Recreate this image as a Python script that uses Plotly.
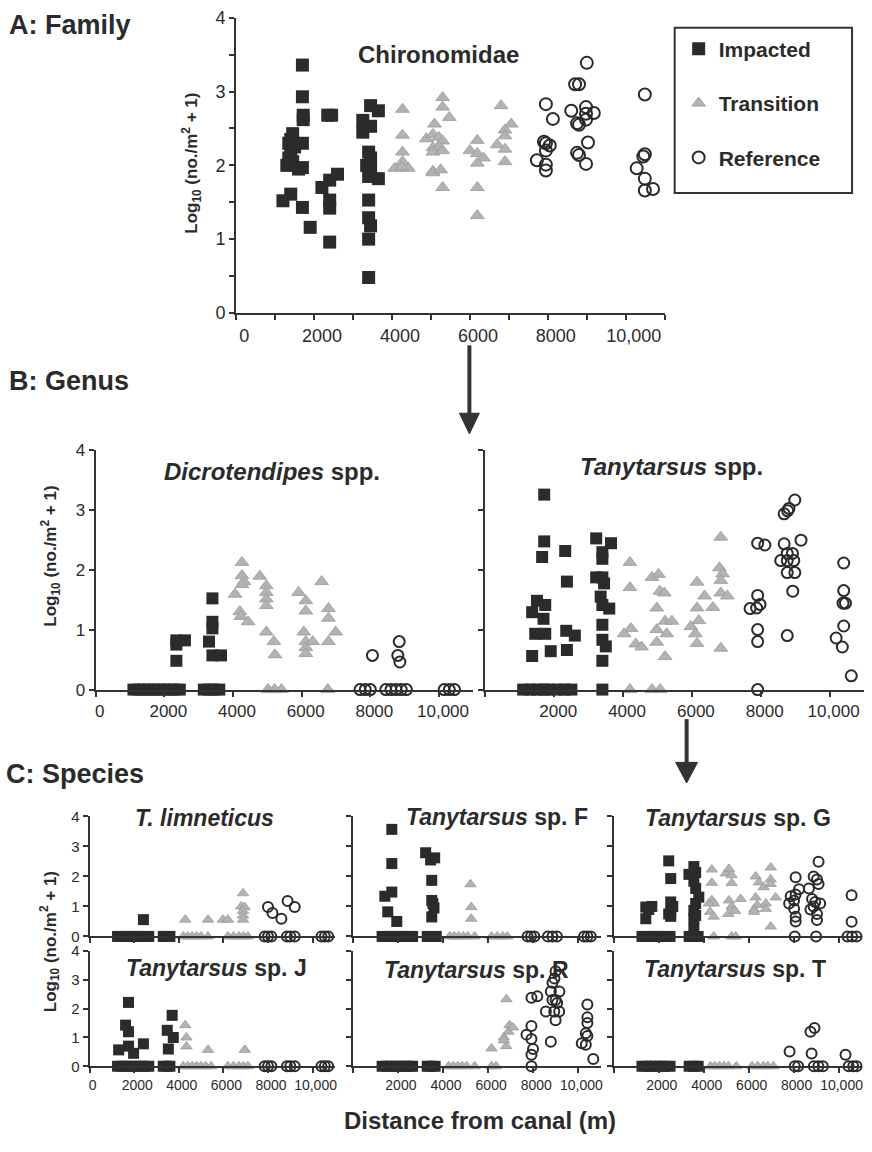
import plotly.graph_objects as go

# ---------------- DATA ----------------
# Panel A: Chironomidae (family)
A_imp_x = [1200, 1400, 1300, 1350, 1400, 1350, 1450, 1400, 1500, 1450, 1600, 1700, 1700, 1720, 1720, 1700, 1700, 1700, 1900,
           2350, 2450, 2200, 2400, 2600, 2400, 2400, 2400,
           3450, 3650, 3250, 3250, 3450, 3400, 3450, 3350, 3450, 3400, 3650, 3400, 3400, 3450, 3400, 3400]
A_imp_y = [1.52, 1.61, 2.0, 2.1, 2.2, 2.3, 2.43, 2.35, 2.25, 2.05, 1.95, 1.97, 2.3, 2.62, 2.68, 2.93, 3.36, 1.43, 1.16,
           2.68, 2.68, 1.7, 1.8, 1.88, 1.53, 1.42, 0.96,
           2.81, 2.74, 2.61, 2.45, 2.53, 2.18, 2.1, 2.0, 1.95, 1.85, 1.82, 1.53, 1.29, 1.18, 1.0, 0.48]
A_tra_x = [4270, 4270, 4270, 4270, 4070, 4420, 4250,
           4880, 5090, 5050, 5050, 5300, 5300, 5470, 5050, 5200, 5300, 5200, 5050, 5300, 5050, 5250, 5300,
           6190, 6000, 6190, 6350, 6190, 6190, 6190,
           6800, 7060, 6900, 6900, 6700, 6900, 6900]
A_tra_y = [2.76, 2.41, 2.18, 2.05, 1.96, 1.96, 1.98,
           2.36, 2.56, 2.24, 1.92, 2.92, 2.79, 2.65, 2.42, 2.38, 2.33, 2.25, 2.18, 2.2, 1.9, 1.94, 1.7,
           2.34, 2.2, 2.16, 2.1, 2.03, 1.7, 1.32,
           2.81, 2.56, 2.48, 2.4, 2.28, 2.22, 2.05]
A_ref_x = [7950, 8130, 7900, 7950, 8050, 7950, 7720, 7950, 7950,
           9000, 8700, 8800, 8600, 8980, 9180, 8980, 8980, 8750, 8800, 9030, 8750, 8800, 8980,
           10490, 10490, 10450, 10280, 10490, 10490, 10700]
A_ref_y = [2.83, 2.63, 2.32, 2.3, 2.27, 2.2, 2.07, 2.01, 1.93,
           3.39, 3.1, 3.1, 2.74, 2.79, 2.71, 2.7, 2.62, 2.57, 2.55, 2.31, 2.17, 2.14, 2.02,
           2.96, 2.15, 2.12, 1.96, 1.82, 1.66, 1.68]

# Panel B left: Dicrotendipes spp.
BL_imp_x = [1100, 1250, 1400, 1550, 1700, 1850, 2000, 2150, 2300, 2450, 3150, 3300, 3450, 3600,
            2350, 2600, 2350, 2350, 3400, 3400, 3400, 3300, 3400, 3650]
BL_imp_y = [0, 0, 0, 0, 0, 0, 0, 0, 0, 0, 0, 0, 0, 0,
            0.82, 0.82, 0.75, 0.48, 1.52, 1.13, 1.02, 0.8, 0.57, 0.57]
BL_tra_x = [5020, 5210, 5410, 6760,
            4260, 4260, 4320, 4260, 4060, 4200, 4230, 4440, 4780, 4970, 4970, 4970, 4970, 4970, 5190, 5220,
            5910, 6120, 6120, 6060, 6120, 6120, 6120, 6320, 6580, 6780, 6780, 6990, 6780]
BL_tra_y = [0, 0, 0, 0,
            2.12, 1.9, 1.8, 1.75, 1.59, 1.3, 1.22, 1.13, 1.89, 1.73, 1.62, 1.51, 1.4, 0.96, 0.8, 0.58,
            1.62, 1.48, 1.31, 0.96, 0.8, 0.7, 0.6, 0.8, 1.8, 1.35, 1.19, 0.96, 0.8]
BL_ref_x = [7700, 7850, 8000, 8450, 8600, 8750, 8900, 9050, 10150, 10300, 10450,
            8060, 8840, 8800, 8860]
BL_ref_y = [0, 0, 0, 0, 0, 0, 0, 0, 0, 0, 0,
            0.57, 0.8, 0.57, 0.46]

# Panel B right: Tanytarsus spp.
BR_imp_x = [1100, 1300, 1500, 1700, 1850, 2100, 2300, 2500, 3400,
            1710, 1710, 1650, 1500, 1740, 1360, 1690, 1450, 1740, 1360, 1900, 2320, 2370, 2350, 2600, 2370,
            3220, 3650, 3400, 3400, 3220, 3400, 3450, 3350, 3400, 3600, 3400, 3400, 3500, 3400]
BR_imp_y = [0, 0, 0, 0, 0, 0, 0, 0, 0,
            3.25, 2.47, 2.21, 1.48, 1.41, 1.29, 1.18, 0.93, 0.93, 0.56, 0.64, 2.31, 1.8, 0.98, 0.9, 0.66,
            2.52, 2.44, 2.29, 2.18, 1.87, 1.87, 1.77, 1.55, 1.41, 1.35, 1.08, 0.83, 0.72, 0.48]
BR_tra_x = [4200, 4840, 5080,
            4200, 4200, 4230, 4030, 4370, 4540, 4840, 5030, 5070, 5200, 4980, 4980, 5270, 5220, 5420, 4980, 5220,
            6150, 6370, 6150, 6610, 6200, 5970, 6100, 6150, 6840, 6800, 6890, 6840, 6840, 7030, 6840]
BR_tra_y = [0, 0, 0,
            2.12, 1.7, 1.02, 0.93, 0.76, 0.71, 1.87, 1.92, 1.64, 1.61, 1.36, 1.0, 0.93, 1.14, 1.14, 0.79, 0.55,
            1.79, 1.56, 1.36, 1.37, 1.15, 1.05, 0.93, 0.77, 2.54, 2.03, 1.93, 1.82, 1.61, 1.56, 0.69]
BR_ref_x = [7910, 8120, 8680, 8780, 8820, 8990, 8680, 9170, 8770, 8920, 8580, 8770, 8960, 8770, 8990, 8930, 8770,
            7910, 7690, 7880, 7980, 7910, 7910, 7910,
            10410, 10410, 10390, 10460, 10410, 10190, 10370, 10630]
BR_ref_y = [2.44, 2.41, 2.93, 2.98, 3.02, 3.16, 2.43, 2.49, 2.27, 2.27, 2.15, 2.15, 2.15, 1.95, 1.95, 1.64, 0.9,
            1.57, 1.35, 1.36, 1.42, 1.0, 0.8, 0.0,
            2.11, 1.65, 1.44, 1.44, 1.06, 0.86, 0.71, 0.23]

# Panel C: species
# T. limneticus
C1_imp_x = [1250, 1450, 1650, 1850, 2050, 2250, 2450, 2650, 3300, 3450, 3600, 2410]
C1_imp_y = [0, 0, 0, 0, 0, 0, 0, 0, 0, 0, 0, 0.56]
C1_tra_x = [4200, 4400, 4600, 4800, 5000, 5300, 6200, 6450, 6700, 6900, 7100,
            4290, 5310, 5980, 6200, 6880, 6800, 6950, 6880, 6880, 6880]
C1_tra_y = [0, 0, 0, 0, 0, 0, 0, 0, 0, 0, 0,
            0.56, 0.56, 0.56, 0.56, 1.44, 1.0, 0.98, 0.85, 0.7, 0.56]
C1_ref_x = [7850, 8000, 8150, 8850, 9000, 9200, 10400, 10550, 10700,
            8000, 8200, 8600, 8880, 9200]
C1_ref_y = [0, 0, 0, 0, 0, 0, 0, 0, 0,
            0.98, 0.78, 0.59, 1.18, 0.98]

# Tanytarsus sp. F
C2_imp_x = [1300, 1500, 1700, 1900, 2100, 2300, 2500, 2650, 3300, 3500, 3700,
            1730, 1730, 3230, 3630, 3450, 3500, 1730, 1420, 3500, 3550, 3600, 1550, 1950, 3500]
C2_imp_y = [0, 0, 0, 0, 0, 0, 0, 0, 0, 0, 0,
            3.57, 2.43, 2.79, 2.62, 2.55, 1.87, 1.48, 1.34, 1.2, 1.1, 0.95, 0.82, 0.5, 0.65]
C2_tra_x = [4300, 4500, 4700, 4900, 5100, 5400, 6150, 6400, 6650, 6850,
            5220, 5250, 5250]
C2_tra_y = [0, 0, 0, 0, 0, 0, 0, 0, 0, 0,
            1.74, 0.98, 0.59]
C2_ref_x = [7750, 7900, 8050, 8650, 8850, 9050, 10250, 10400, 10550]
C2_ref_y = [0, 0, 0, 0, 0, 0, 0, 0, 0]

# Tanytarsus sp. G
C3_imp_x = [1250, 1450, 1650, 1850, 2050, 2250, 2500, 3350, 3550, 3750,
            1420, 1690, 1420, 1550, 2440, 2530, 2530, 2620, 2530, 2440, 2530,
            3560, 3640, 3340, 3560, 3640, 3780, 3640, 3560, 3640, 3560, 3560]
C3_imp_y = [0, 0, 0, 0, 0, 0, 0, 0, 0, 0,
            0.98, 1.0, 0.59, 0.9, 2.52, 1.93, 1.15, 1.0, 0.82, 0.75, 0.67,
            2.33, 2.13, 2.07, 1.84, 1.6, 1.31, 1.1, 0.87, 0.7, 0.6, 0.26]
C3_tra_x = [4440, 5240, 5420,
            4360, 4360, 4980, 5120, 5240, 5240, 4360, 4450, 4230, 5120, 5240, 5360, 5640,
            6310, 6450, 6670, 6980, 6980, 6980, 6310, 6380, 6760, 7200, 6240,
            4280, 4440, 5090, 5390, 6240, 6760, 6980]
C3_tra_y = [0, 0, 0,
            2.23, 1.79, 2.1, 2.25, 2.04, 1.78, 1.21, 1.1, 1.1, 1.2, 1.0, 0.87, 1.25,
            2.0, 1.8, 1.64, 2.3, 1.9, 1.75, 1.3, 1.05, 1.1, 1.3, 0.9,
            0.82, 0.66, 0.75, 0.85, 0.82, 0.92, 0.33]
C3_ref_x = [8050, 9000, 10400, 10600, 10800,
            8090, 9110, 8890, 9040, 9110, 8240, 7870, 8090, 8020, 8680, 7800, 8820, 8960, 9180, 8750,
            10580, 8020, 8090, 8090, 8890, 9040, 9040, 10580]
C3_ref_y = [0, 0, 0, 0, 0,
            1.97, 2.49, 2.0, 1.9, 1.75, 1.57, 1.34, 1.4, 1.2, 1.6, 1.1, 1.25, 1.15, 1.1, 0.9,
            1.37, 0.92, 0.66, 0.5, 1.0, 0.75, 0.55, 0.49]

# Tanytarsus sp. J
C4_imp_x = [1250, 1450, 1650, 1850, 2050, 2250, 2450, 2650, 3300, 3450, 3600,
            1740, 1610, 1740, 1300, 1740, 1970, 2410, 3700, 3480, 3750, 3530]
C4_imp_y = [0, 0, 0, 0, 0, 0, 0, 0, 0, 0, 0,
            2.22, 1.43, 1.2, 0.57, 0.7, 0.45, 0.78, 1.77, 1.25, 1.0, 0.6]
C4_tra_x = [4200, 4400, 4600, 4800, 5000, 5200, 5450, 6200, 6450, 6700, 6900, 7100,
            4290, 4340, 4340, 5310, 6960]
C4_tra_y = [0, 0, 0, 0, 0, 0, 0, 0, 0, 0, 0, 0,
            1.43, 1.0, 0.69, 0.57, 0.57]
C4_ref_x = [7850, 8000, 8150, 8850, 9000, 9200, 10400, 10550, 10700]
C4_ref_y = [0, 0, 0, 0, 0, 0, 0, 0, 0]

# Tanytarsus sp. R
C5_imp_x = [1300, 1500, 1700, 1900, 2100, 2300, 2500, 2650, 3300, 3450, 3650]
C5_imp_y = [0, 0, 0, 0, 0, 0, 0, 0, 0, 0, 0]
C5_tra_x = [4250, 4450, 4650, 4850, 5050, 5400, 6150, 6350,
            6810, 6950, 6900, 6700, 6700, 6800, 6150, 7100]
C5_tra_y = [0, 0, 0, 0, 0, 0, 0, 0,
            2.33, 1.43, 1.2, 1.0, 0.9, 0.7, 0.62, 1.35]
C5_ref_x = [7920, 8180, 8850, 8940, 8990, 9160, 8780, 8850, 8990, 9060, 8560, 8930, 9150, 8990, 8780,
            7920, 7700, 7920, 7990, 7920, 7920,
            10400, 10400, 10400, 10330, 10400, 10150, 10330, 10660]
C5_ref_y = [2.38, 2.43, 2.9, 3.05, 3.3, 2.6, 2.6, 2.3, 2.3, 2.2, 1.9, 1.9, 1.9, 1.6, 0.85,
            1.4, 1.1, 0.95, 0.6, 0.4, 0.0,
            2.15, 1.7, 1.5, 1.15, 1.05, 0.8, 0.75, 0.25]

# Tanytarsus sp. T
C6_imp_x = [1250, 1450, 1650, 1850, 2050, 2250, 2500, 3350, 3550, 3750]
C6_imp_y = [0, 0, 0, 0, 0, 0, 0, 0, 0, 0]
C6_tra_x = [4300, 4500, 4700, 4900, 5100, 5450, 6150, 6400, 6650, 6850, 7100]
C6_tra_y = [0, 0, 0, 0, 0, 0, 0, 0, 0, 0, 0]
C6_ref_x = [8050, 8200, 8900, 9100, 9300, 10450, 10650, 10800,
            7820, 8750, 8930, 8800, 10310]
C6_ref_y = [0, 0, 0, 0, 0, 0, 0, 0,
            0.51, 1.2, 1.33, 0.44, 0.4]

x_tickvals = [0, 2000, 4000, 6000, 8000, 10000]
x_ticktext = ["0", "2000", "4000", "6000", "8000", "10,000"]
x_ticktext_no0 = ["", "2000", "4000", "6000", "8000", "10,000"]
y_tickvals = [0, 1, 2, 3, 4]
group_names = ["Impacted", "Transition", "Reference"]
panel_titles = ["Chironomidae", "<i>Dicrotendipes</i> spp.", "<i>Tanytarsus</i> spp.",
                "<i>T. limneticus</i>", "<i>Tanytarsus</i> sp. F", "<i>Tanytarsus</i> sp. G",
                "<i>Tanytarsus</i> sp. J", "<i>Tanytarsus</i> sp. R", "<i>Tanytarsus</i> sp. T"]
ytitle = "Log<sub>10</sub> (no./m<sup>2</sup> + 1)"

# ---------------- LAYOUT ----------------
W, H = 872, 1152
FONT = "Liberation Sans, Arial, Helvetica, sans-serif"
INK = "#2b2b2b"

def fx(p):
    return p / W

def fy(p):
    return 1 - p / H

panels = [
    dict(xd=(236, 666), yd=(9, 309), xt=x_ticktext, showx=True, showy=True, kind="A"),
    dict(xd=(95, 474), yd=(448, 692), xt=x_ticktext, showx=True, showy=True, kind="B"),
    dict(xd=(486, 866), yd=(448, 692), xt=x_ticktext_no0, showx=True, showy=False, kind="B"),
    dict(xd=(89, 335), yd=(821, 943), xt=x_ticktext, showx=False, showy=True, kind="C"),
    dict(xd=(353, 602), yd=(821, 943), xt=x_ticktext, showx=False, showy=False, kind="C"),
    dict(xd=(615, 863), yd=(821, 943), xt=x_ticktext, showx=False, showy=False, kind="C"),
    dict(xd=(89, 335), yd=(958, 1075), xt=x_ticktext, showx=True, showy=True, kind="C"),
    dict(xd=(353, 602), yd=(958, 1075), xt=x_ticktext_no0, showx=True, showy=False, kind="C"),
    dict(xd=(615, 863), yd=(958, 1075), xt=x_ticktext_no0, showx=True, showy=False, kind="C"),
]
data_sets = [
    (A_imp_x, A_imp_y, A_tra_x, A_tra_y, A_ref_x, A_ref_y),
    (BL_imp_x, BL_imp_y, BL_tra_x, BL_tra_y, BL_ref_x, BL_ref_y),
    (BR_imp_x, BR_imp_y, BR_tra_x, BR_tra_y, BR_ref_x, BR_ref_y),
    (C1_imp_x, C1_imp_y, C1_tra_x, C1_tra_y, C1_ref_x, C1_ref_y),
    (C2_imp_x, C2_imp_y, C2_tra_x, C2_tra_y, C2_ref_x, C2_ref_y),
    (C3_imp_x, C3_imp_y, C3_tra_x, C3_tra_y, C3_ref_x, C3_ref_y),
    (C4_imp_x, C4_imp_y, C4_tra_x, C4_tra_y, C4_ref_x, C4_ref_y),
    (C5_imp_x, C5_imp_y, C5_tra_x, C5_tra_y, C5_ref_x, C5_ref_y),
    (C6_imp_x, C6_imp_y, C6_tra_x, C6_tra_y, C6_ref_x, C6_ref_y),
]
msize = {"A": (13, 12, 12), "B": (12, 12, 11), "C": (11, 10, 10)}
xfont = {"A": 18, "B": 17, "C": 14}
yfont = {"A": 18, "B": 17, "C": 15}
xshift = {"A": 8, "B": 4, "C": 3}

fig = go.Figure()
layout = {}
for i, (p, ds) in enumerate(zip(panels, data_sets)):
    n = "" if i == 0 else str(i + 1)
    xa, ya = "x" + n, "y" + n
    ix, iy, tx, ty, rx, ry = ds
    ss, st, sr = msize[p["kind"]]
    first = (i == 0)
    fig.add_trace(go.Scatter(x=ix, y=iy, mode="markers", xaxis=xa, yaxis=ya, cliponaxis=False,
                             name="<b>%s</b>" % group_names[0], legendgroup="g1", showlegend=first,
                             marker=dict(symbol="square", size=ss, color=INK, line=dict(width=0))))
    fig.add_trace(go.Scatter(x=tx, y=ty, mode="markers", xaxis=xa, yaxis=ya, cliponaxis=False,
                             name="<b>%s</b>" % group_names[1], legendgroup="g2", showlegend=first,
                             marker=dict(symbol="triangle-up", size=st, color="#b3b3b3",
                                         line=dict(width=0.8, color="#999999"))))
    fig.add_trace(go.Scatter(x=rx, y=ry, mode="markers", xaxis=xa, yaxis=ya, cliponaxis=False,
                             name="<b>%s</b>" % group_names[2], legendgroup="g3", showlegend=first,
                             marker=dict(symbol="circle-open", size=sr, color=INK,
                                         line=dict(width=2, color=INK))))
    k = p["kind"]
    xax = dict(domain=[fx(p["xd"][0]), fx(p["xd"][1])], anchor=ya, range=[0, 11000],
               showline=True, linecolor="#333", linewidth=2, showgrid=False, zeroline=False,
               ticks="outside", ticklen=5, tickwidth=2, tickcolor="#333",
               tickvals=x_tickvals, ticktext=p["xt"], showticklabels=p["showx"],
               ticklabelshift=xshift[k],
               tickfont=dict(family=FONT, size=xfont[k], color=INK), fixedrange=True)
    yax = dict(domain=[fy(p["yd"][1]), fy(p["yd"][0])], anchor=xa, range=[0, 4],
               showline=True, linecolor="#333", linewidth=2, showgrid=False, zeroline=False,
               ticks="outside", ticklen=5, tickwidth=2, tickcolor="#333",
               tickvals=y_tickvals, showticklabels=p["showy"],
               tickfont=dict(family=FONT, size=yfont[k], color=INK), fixedrange=True)
    if k == "A":
        xax["minor"] = dict(ticks="outside", dtick=1000, ticklen=5, tickwidth=2, tickcolor="#333")
        yax["minor"] = dict(ticks="outside", dtick=0.5, ticklen=5, tickwidth=2, tickcolor="#333")
    layout["xaxis" + n] = xax
    layout["yaxis" + n] = yax

annotations = []
def text(x, y, s, size, bold=True, angle=0, xanchor="center"):
    annotations.append(dict(x=fx(x), y=fy(y), xref="paper", yref="paper", showarrow=False,
                            text=("<b>%s</b>" % s) if bold else s, textangle=angle,
                            xanchor=xanchor, yanchor="middle",
                            font=dict(family=FONT, size=size, color=INK)))

text(6, 16, "A: Family", 27, xanchor="left")
text(6, 378, "B: Genus", 27, xanchor="left")
text(3, 778, "C: Species", 27, xanchor="left")
title_pos = [(439, 46, 24), (272, 470, 24), (673, 465, 24),
             (204, 823, 23), (498, 822, 23), (740, 823, 23),
             (216, 975, 23), (477, 977, 23), (737, 976, 23)]
for (x, y, s), t in zip(title_pos, panel_titles):
    text(x, y, t, s)
text(191, 157, ytitle, 17, angle=-90)
text(50, 556, ytitle, 17, angle=-90)
text(49, 948, ytitle, 17, angle=-90)
text(481, 1130, "Distance from canal (m)", 24)

shapes = []
def arrow(x, y0, y1, hw, hh):
    shapes.append(dict(type="line", xref="paper", yref="paper", x0=fx(x), x1=fx(x),
                       y0=fy(y0), y1=fy(y1 - hh + 2), line=dict(color="#333", width=4)))
    path = "M %f %f L %f %f L %f %f Z" % (fx(x - hw), fy(y1 - hh), fx(x + hw), fy(y1 - hh), fx(x), fy(y1))
    shapes.append(dict(type="path", xref="paper", yref="paper", path=path,
                       fillcolor="#333", line=dict(color="#333", width=1)))

arrow(470, 342, 432, 10, 21)
arrow(688, 722, 787, 11, 21)

# legend frame
shapes.append(dict(type="rect", xref="paper", yref="paper", x0=fx(676), x1=fx(854), y0=fy(187), y1=fy(19),
                   line=dict(color="#333", width=2), fillcolor="rgba(0,0,0,0)"))

fig.update_layout(**layout)
fig.update_layout(
    width=W, height=H, margin=dict(l=0, r=0, t=0, b=0),
    paper_bgcolor="white", plot_bgcolor="white",
    annotations=annotations, shapes=shapes,
    showlegend=True,
    legend=dict(x=fx(680), y=fy(20), xanchor="left", yanchor="top",
                borderwidth=0, bgcolor="rgba(0,0,0,0)",
                font=dict(family=FONT, size=21, color=INK),
                tracegroupgap=24, itemsizing="trace"),
)

fig.write_html("out.html")
